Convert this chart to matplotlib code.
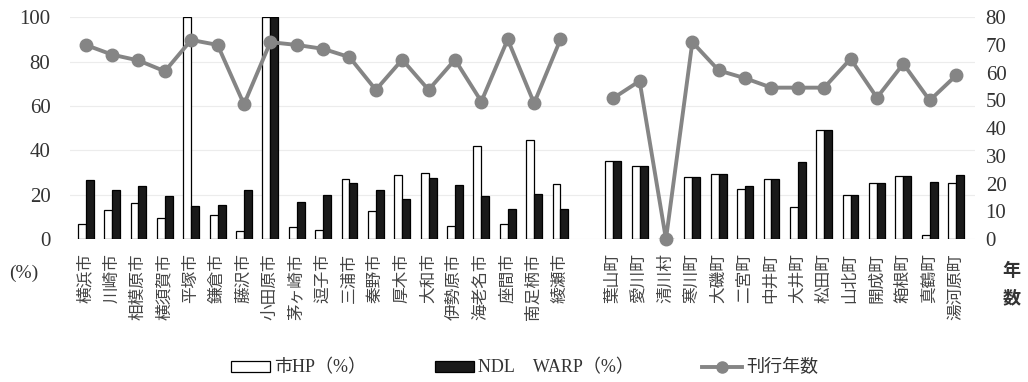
import numpy as np
import matplotlib
matplotlib.use('Agg')
import matplotlib.pyplot as plt
from matplotlib.lines import Line2D
from matplotlib.patches import Patch

plt.rcParams['font.family'] = ['Liberation Serif', 'Noto Sans CJK JP']

# data (gap slot between cities and towns = '')
names = ['横浜市', '川崎市', '相模原市', '横須賀市', '平塚市', '鎌倉市', '藤沢市', '小田原市',
         '茅ヶ崎市', '逗子市', '三浦市', '秦野市', '厚木市', '大和市', '伊勢原市', '海老名市',
         '座間市', '南足柄市', '綾瀬市', '',
         '葉山町', '愛川町', '清川村', '寒川町', '大磯町', '二宮町', '中井町', '大井町',
         '松田町', '山北町', '開成町', '箱根町', '真鶴町', '湯河原町']
hp = [6.6, 13, 16.5, 9.3, 100, 11, 3.8, 100, 5.3, 4, 27, 12.6, 29, 29.6, 5.9, 42,
      6.6, 44.7, 25, np.nan,
      35, 33, 0, 28, 29.5, 22.4, 27, 14.3, 49, 19.8, 25.4, 28.6, 1.8, 25.4]
warp = [26.6, 22, 24, 19.4, 14.9, 15.3, 22, 100, 16.8, 20, 25.5, 22, 18, 27.7, 24.4, 19.5,
        13.5, 20.3, 13.7, np.nan,
        35, 33, 0, 28, 29.5, 24, 27, 34.6, 49, 19.8, 25.4, 28.6, 25.9, 29]
years = [70, 66.5, 64.4, 60.5, 71.8, 70, 48.6, 71, 70, 68.6, 65.6, 53.8, 64.7, 53.8,
         64.7, 49.6, 72, 49, 72, np.nan,
         50.8, 57, 0, 71, 60.8, 58, 54.6, 54.6, 54.6, 65, 51, 63.2, 50, 59]

x = np.arange(len(names))
w = 0.3

fig = plt.figure(figsize=(10.28, 3.82), dpi=100)
ax = fig.add_axes([0.068, 0.374, 0.88, 0.581])
ax2 = ax.twinx()

ax.bar(x - w / 2, hp, w, color='white', edgecolor='black', linewidth=0.9, zorder=2)
ax.bar(x + w / 2, warp, w, color='#1a1a1a', edgecolor='black', linewidth=0.9, zorder=2)
ax2.plot(x, years, color='#858585', lw=2.8, marker='o', ms=9, zorder=3, clip_on=False)

ax.set_ylim(0, 100)
ax.set_yticks(range(0, 101, 20))
ax2.set_ylim(0, 80)
ax2.set_yticks(range(0, 81, 10))
ax.set_xlim(-0.6, 33.7)
ax.set_xticks(x)
ax.set_xticklabels(names, rotation=90, fontsize=12, color='#444444')
ax.grid(axis='y', color='#ececec', lw=0.8, zorder=0)
ax.set_axisbelow(True)

for a in (ax, ax2):
    for s in a.spines.values():
        s.set_visible(False)
    a.tick_params(length=0)
ax.tick_params(axis='y', labelsize=15, pad=14, colors='#333333')
ax2.tick_params(axis='y', labelsize=15, pad=8, colors='#333333')
ax.tick_params(axis='x', pad=10)

fig.text(0.023, 0.285, '(%)', fontsize=14, ha='center', va='center', color='#333333')
fig.text(0.984, 0.29, '年', fontsize=13, ha='center', va='center', weight='bold', color='#333333')
fig.text(0.984, 0.218, '数', fontsize=13, ha='center', va='center', weight='bold', color='#333333')

handles = [Patch(facecolor='white', edgecolor='black', lw=0.9),
           Patch(facecolor='#1a1a1a', edgecolor='black', lw=0.9),
           Line2D([], [], color='#858585', lw=2.8, marker='o', ms=8)]
labels = ['市HP（%）', 'NDL　WARP（%）', '刊行年数']
fig.legend(handles, labels, loc='center', bbox_to_anchor=(0.51, 0.037), ncol=3,
           frameon=False, fontsize=13, handlelength=2.2, handleheight=0.55,
           columnspacing=3.8, handletextpad=0.2, labelcolor='#333333')

fig.savefig('out.png', dpi=100)
